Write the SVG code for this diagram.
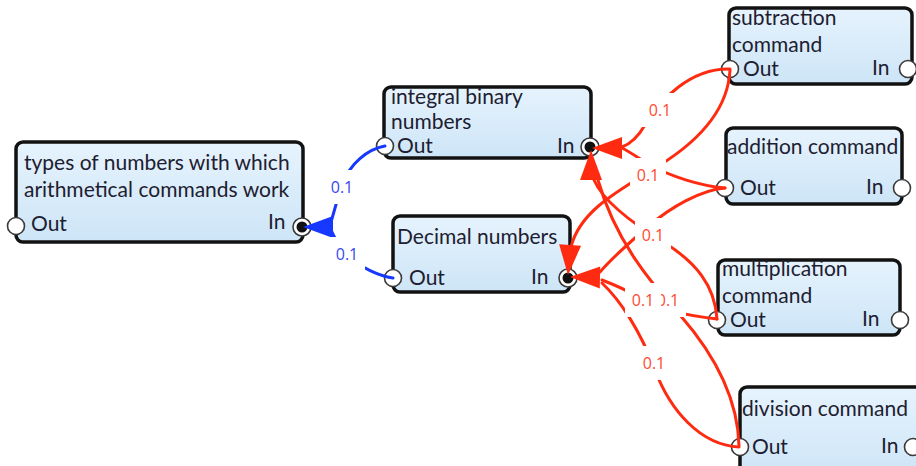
<svg xmlns="http://www.w3.org/2000/svg" xmlns:xlink="http://www.w3.org/1999/xlink" width="916" height="466" viewBox="0 0 916 466">
  <style>
    .box { fill: url(#boxFill); stroke: #121212; stroke-width: 3.5; }
    .txt { font-family: Lato, "Open Sans", sans-serif; font-size: 21px; fill: #1d2030; }
    .port { fill: #ffffff; stroke: #3a3a3a; stroke-width: 1.6; }
    .hub { fill: #111111; }
    .red { fill: none; stroke: #ff2b10; stroke-width: 3; stroke-linecap: round; }
    .blue { fill: none; stroke: #1638ff; stroke-width: 3; stroke-linecap: round; }
    .redHead { fill: #ff2b10; }
    .blueHead { fill: #1638ff; }
    .lblBg { fill: #ffffff; }
    .lbl { font-family: "Open Sans", "Noto Sans", sans-serif; font-size: 16px; text-anchor: middle; }
    .lblRed { fill: #ff4a30; }
    .lblBlue { fill: #3848f0; }
  </style>
  <defs>
    <linearGradient id="boxFill" x1="0" y1="0" x2="0" y2="1">
      <stop offset="0" stop-color="#e6f3fd"/>
      <stop offset="1" stop-color="#cde5f7"/>
    </linearGradient>
    <!-- arrowhead with its tip at the origin, pointing along +x -->
    <path id="head" d="M0,0 L-30,-11 L-30,11 Z"/>
  </defs>

  <rect width="916" height="466" fill="#ffffff"/>

  <!-- nodes -->
  <g id="types">
    <rect class="box" x="16" y="142" width="287" height="100" rx="7"/>
    <text class="txt" x="24" y="170">types of numbers with which</text>
    <text class="txt" x="24" y="197">arithmetical commands work</text>
    <text class="txt" x="31" y="231">Out</text>
    <text class="txt" x="268" y="229">In</text>
    <circle class="port" cx="16" cy="226" r="8.5"/>
    <circle class="port" cx="302" cy="227" r="9"/>
    <circle class="hub" cx="302" cy="227" r="5.5"/>
  </g>

  <g id="integral">
    <rect class="box" x="384" y="87" width="207" height="71" rx="7"/>
    <text class="txt" x="391" y="104">integral binary</text>
    <text class="txt" x="391" y="129">numbers</text>
    <text class="txt" x="397" y="153">Out</text>
    <text class="txt" x="557" y="153">In</text>
    <circle class="port" cx="385" cy="146" r="8.5"/>
    <circle class="port" cx="590" cy="147" r="9"/>
    <circle class="hub" cx="590" cy="147" r="5.5"/>
  </g>

  <g id="decimal">
    <rect class="box" x="393" y="216" width="177" height="76" rx="7"/>
    <text class="txt" x="397" y="244">Decimal numbers</text>
    <text class="txt" x="409" y="285">Out</text>
    <text class="txt" x="531" y="284">In</text>
    <circle class="port" cx="393" cy="278" r="8.5"/>
    <circle class="port" cx="568" cy="278" r="9"/>
    <circle class="hub" cx="568" cy="278" r="5.5"/>
  </g>

  <g id="subtraction">
    <rect class="box" x="729" y="8" width="183" height="76" rx="7"/>
    <text class="txt" x="732" y="25">subtraction</text>
    <text class="txt" x="732" y="52">command</text>
    <text class="txt" x="743" y="76">Out</text>
    <text class="txt" x="872" y="75">In</text>
    <circle class="port" cx="730" cy="69" r="8.5"/>
    <circle class="port" cx="908" cy="69" r="8.5"/>
  </g>

  <g id="addition">
    <rect class="box" x="726" y="128" width="176" height="76" rx="7"/>
    <text class="txt" x="727" y="154">addition command</text>
    <text class="txt" x="740" y="195">Out</text>
    <text class="txt" x="866" y="194">In</text>
    <circle class="port" cx="725" cy="188" r="8.5"/>
    <circle class="port" cx="902" cy="188" r="8.5"/>
  </g>

  <g id="multiplication">
    <rect class="box" x="718" y="260" width="182" height="75" rx="7"/>
    <text class="txt" x="722" y="276">multiplication</text>
    <text class="txt" x="722" y="303">command</text>
    <text class="txt" x="730" y="327">Out</text>
    <text class="txt" x="862" y="326">In</text>
    <circle class="port" cx="717" cy="320" r="8.5"/>
    <circle class="port" cx="900" cy="320" r="8.5"/>
  </g>

  <g id="division">
    <rect class="box" x="740" y="387" width="190" height="90" rx="7"/>
    <text class="txt" x="742" y="416">division command</text>
    <text class="txt" x="752" y="454">Out</text>
    <text class="txt" x="881" y="453">In</text>
    <circle class="port" cx="740" cy="447" r="8.5"/>
    <circle class="port" cx="913" cy="447" r="8.5"/>
  </g>

  <!-- connectors -->
  <g id="connectors">
    <!-- into "types of numbers..." -->
    <path class="blue" d="M385,146 C368,149 350,163 342,185 C337,200 334,212 331,222"/>
    <path class="blue" d="M393,278 C380,276 360,268 348,255 C340,246 335,240 332,232"/>
    <use xlink:href="#head" class="blueHead" transform="translate(303,227) rotate(180)"/>

    <!-- into "integral binary numbers" -->
    <path class="red" d="M730,69 C690,68 660,100 645,125 C638,137 630,144 622,147"/>
    <path class="red" d="M725,188 C700,186 670,176 650,165 C640,159 630,152 622,148"/>
    <path class="red" d="M717,319 C715,285 695,262 665,243 C640,228 605,205 594,180"/>
    <path class="red" d="M739,446 C738,400 715,355 680,315 C650,282 615,240 598,180"/>
    <use xlink:href="#head" class="redHead" transform="translate(592,148) rotate(180)"/>
    <use xlink:href="#head" class="redHead" transform="translate(591,150) rotate(-90)"/>

    <!-- into "Decimal numbers" -->
    <path class="red" d="M730,70 C728,110 700,140 660,165 C620,190 580,210 571,247"/>
    <path class="red" d="M725,188 C700,190 670,208 650,225 C630,242 612,258 600,272"/>
    <path class="red" d="M717,319 C690,316 660,310 640,298 C630,292 615,285 602,280"/>
    <path class="red" d="M739,447 C700,445 670,410 655,370 C640,330 620,300 602,283"/>
    <use xlink:href="#head" class="redHead" transform="translate(568,275) rotate(94)"/>
    <use xlink:href="#head" class="redHead" transform="translate(570,277) rotate(181)"/>
  </g>

  <!-- weights -->
  <g id="weights">
    <rect class="lblBg" x="324" y="170" width="36" height="34"/>
    <text class="lbl lblBlue" x="342" y="193">0.1</text>
    <rect class="lblBg" x="329" y="237" width="36" height="34"/>
    <text class="lbl lblBlue" x="347" y="260">0.1</text>

    <rect class="lblBg" x="642" y="93" width="36" height="34"/>
    <text class="lbl lblRed" x="660" y="116">0.1</text>
    <rect class="lblBg" x="630" y="158" width="36" height="34"/>
    <text class="lbl lblRed" x="648" y="181">0.1</text>
    <rect class="lblBg" x="635" y="218" width="36" height="34"/>
    <text class="lbl lblRed" x="653" y="241">0.1</text>
    <rect class="lblBg" x="650" y="283" width="36" height="34"/>
    <text class="lbl lblRed" x="668" y="306">0.1</text>
    <rect class="lblBg" x="625" y="283" width="36" height="34"/>
    <text class="lbl lblRed" x="643" y="306">0.1</text>
    <rect class="lblBg" x="636" y="346" width="36" height="34"/>
    <text class="lbl lblRed" x="654" y="369">0.1</text>
  </g>
</svg>
